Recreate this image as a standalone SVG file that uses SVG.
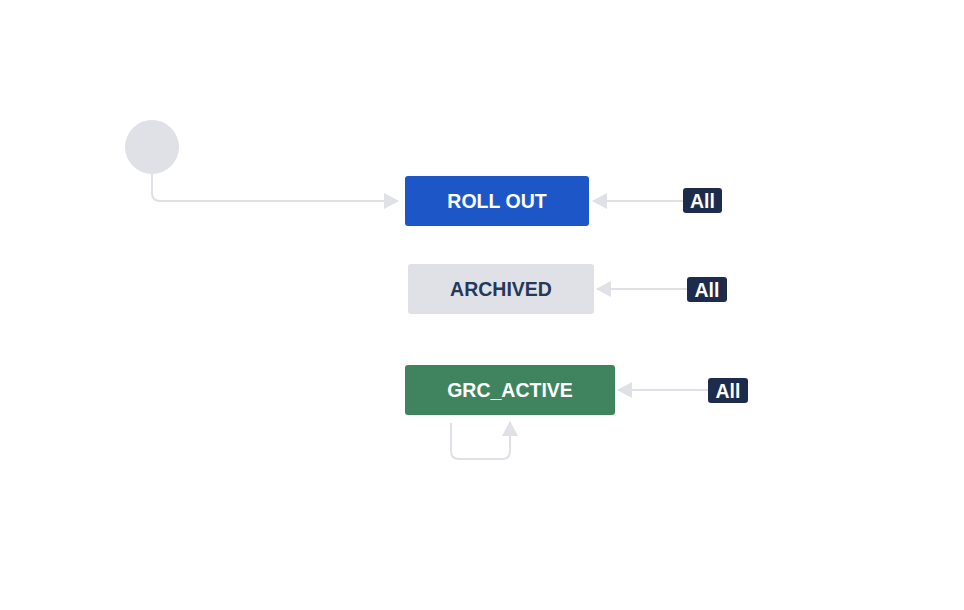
<svg xmlns="http://www.w3.org/2000/svg" width="964" height="610" viewBox="0 0 964 610">
<defs>
<style>
.conn{fill:none;stroke:#DFE1E6;stroke-width:2}
.lbl{font-family:"Liberation Sans",Arial,sans-serif;font-weight:bold;font-size:19.5px;text-anchor:middle}
.badge{fill:#1D2B4C}
.bt{fill:#fff;font-family:"Liberation Sans",Arial,sans-serif;font-weight:bold;font-size:19.5px;text-anchor:middle}
</style>
<marker id="ah" markerWidth="15" markerHeight="16" refX="14" refY="8" orient="auto" markerUnits="userSpaceOnUse">
<path d="M0,0 L15,8 L0,16 Z" fill="#DFE1E6"/>
</marker>
</defs>
<rect width="964" height="610" fill="#fff"/>
<g id="connectors">
<path class="conn" d="M152,173 V193 Q152,201 160,201 H398" marker-end="url(#ah)"/>
<path class="conn" d="M684,201 H593" marker-end="url(#ah)"/>
<path class="conn" d="M688,289 H597" marker-end="url(#ah)"/>
<path class="conn" d="M709,390 H618" marker-end="url(#ah)"/>
<path class="conn" d="M451,423 V451 Q451,459 459,459 H502 Q510,459 510,451 V422" marker-end="url(#ah)"/>
</g>
<g id="start">
<circle cx="152" cy="147" r="27" fill="#DFE1E6"/>
</g>
<g id="rollout">
<rect x="405" y="176" width="184" height="50" rx="3" fill="#1D57C7"/>
<text class="lbl" x="497" y="208" fill="#fff">ROLL OUT</text>
</g>
<g id="archived">
<rect x="408" y="264" width="186" height="50" rx="3" fill="#DFE1E6"/>
<text class="lbl" x="501" y="296" fill="#253858">ARCHIVED</text>
</g>
<g id="grcactive">
<rect x="405" y="365" width="210" height="50" rx="3" fill="#3F845F"/>
<text class="lbl" x="510" y="397" fill="#fff">GRC_ACTIVE</text>
</g>
<g id="all1">
<rect class="badge" x="683" y="188" width="39" height="25" rx="3"/>
<text class="bt" x="702.5" y="208">All</text>
</g>
<g id="all2">
<rect class="badge" x="687" y="277" width="40" height="25" rx="3"/>
<text class="bt" x="707" y="297">All</text>
</g>
<g id="all3">
<rect class="badge" x="708" y="378" width="40" height="25" rx="3"/>
<text class="bt" x="728" y="398">All</text>
</g>
</svg>
